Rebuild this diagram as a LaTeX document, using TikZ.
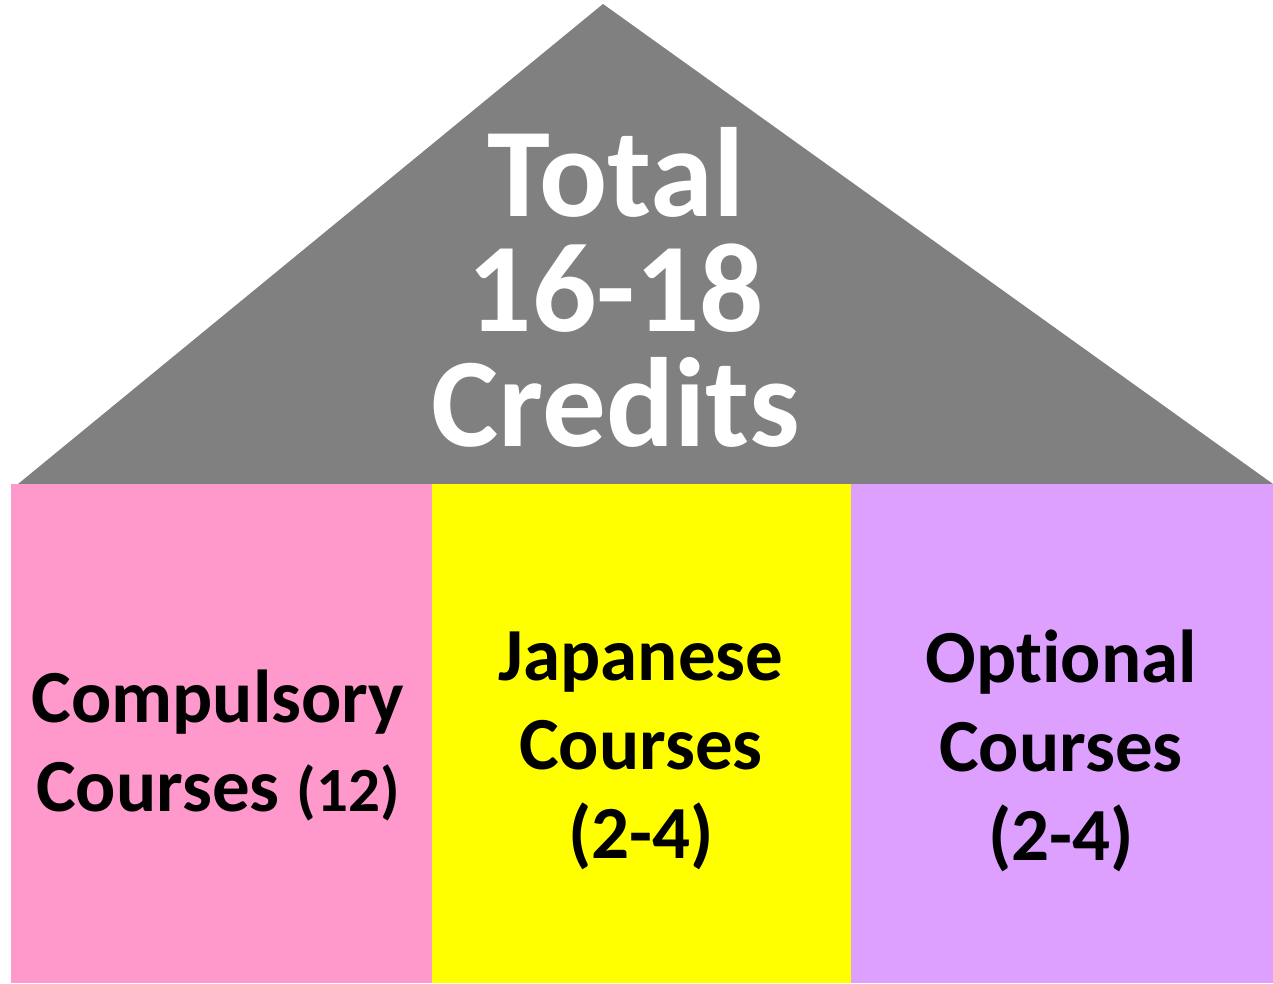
\documentclass[tikz,border=0pt]{standalone}
\usepackage{fontspec}
\setmainfont[Ligatures=NoCommon]{Carlito}
\definecolor{roofgray}{HTML}{808080}
\definecolor{pinkbox}{HTML}{FF99CC}
\definecolor{yellowbox}{HTML}{FFFF00}
\definecolor{purplebox}{HTML}{DDA0FF}
\tikzset{
    biglbl/.style={text=white, align=center, inner sep=0pt,
        font=\bfseries\fontsize{127}{115}\selectfont},
    boxlbl/.style={text=black, align=center, inner sep=0pt,
        font=\bfseries\fontsize{75}{89}\selectfont}
}
\begin{document}
\begin{tikzpicture}[x=1pt,y=-1pt]
    \useasboundingbox (0,0) rectangle (1273,983);

    % Roof
    \coordinate (apex) at (603,4);
    \coordinate (eaveL) at (18,484);
    \coordinate (eaveR) at (1273,484);
    \fill[roofgray] (eaveL) -- (apex) -- (eaveR) -- cycle;

    % Three boxes
    \fill[pinkbox]   (11,484)  rectangle (432,983);
    \fill[yellowbox] (432,484) rectangle (851,983);
    \fill[purplebox] (851,484) rectangle (1273,983);

    % Roof label
    \node[biglbl] (total) at (616,287) {Total\\16-18\\Credits};

    % Box labels
    \node[boxlbl] (comp) at (218,745)
        {Compulsory\\Courses {\fontsize{63}{89}\selectfont(12)}};
    \node[boxlbl] (jap) at (641,751) {Japanese\\Courses\\(2-4)};
    \node[boxlbl] (opt) at (1061,751) {Optional\\Courses\\(2-4)};
\end{tikzpicture}
\end{document}
